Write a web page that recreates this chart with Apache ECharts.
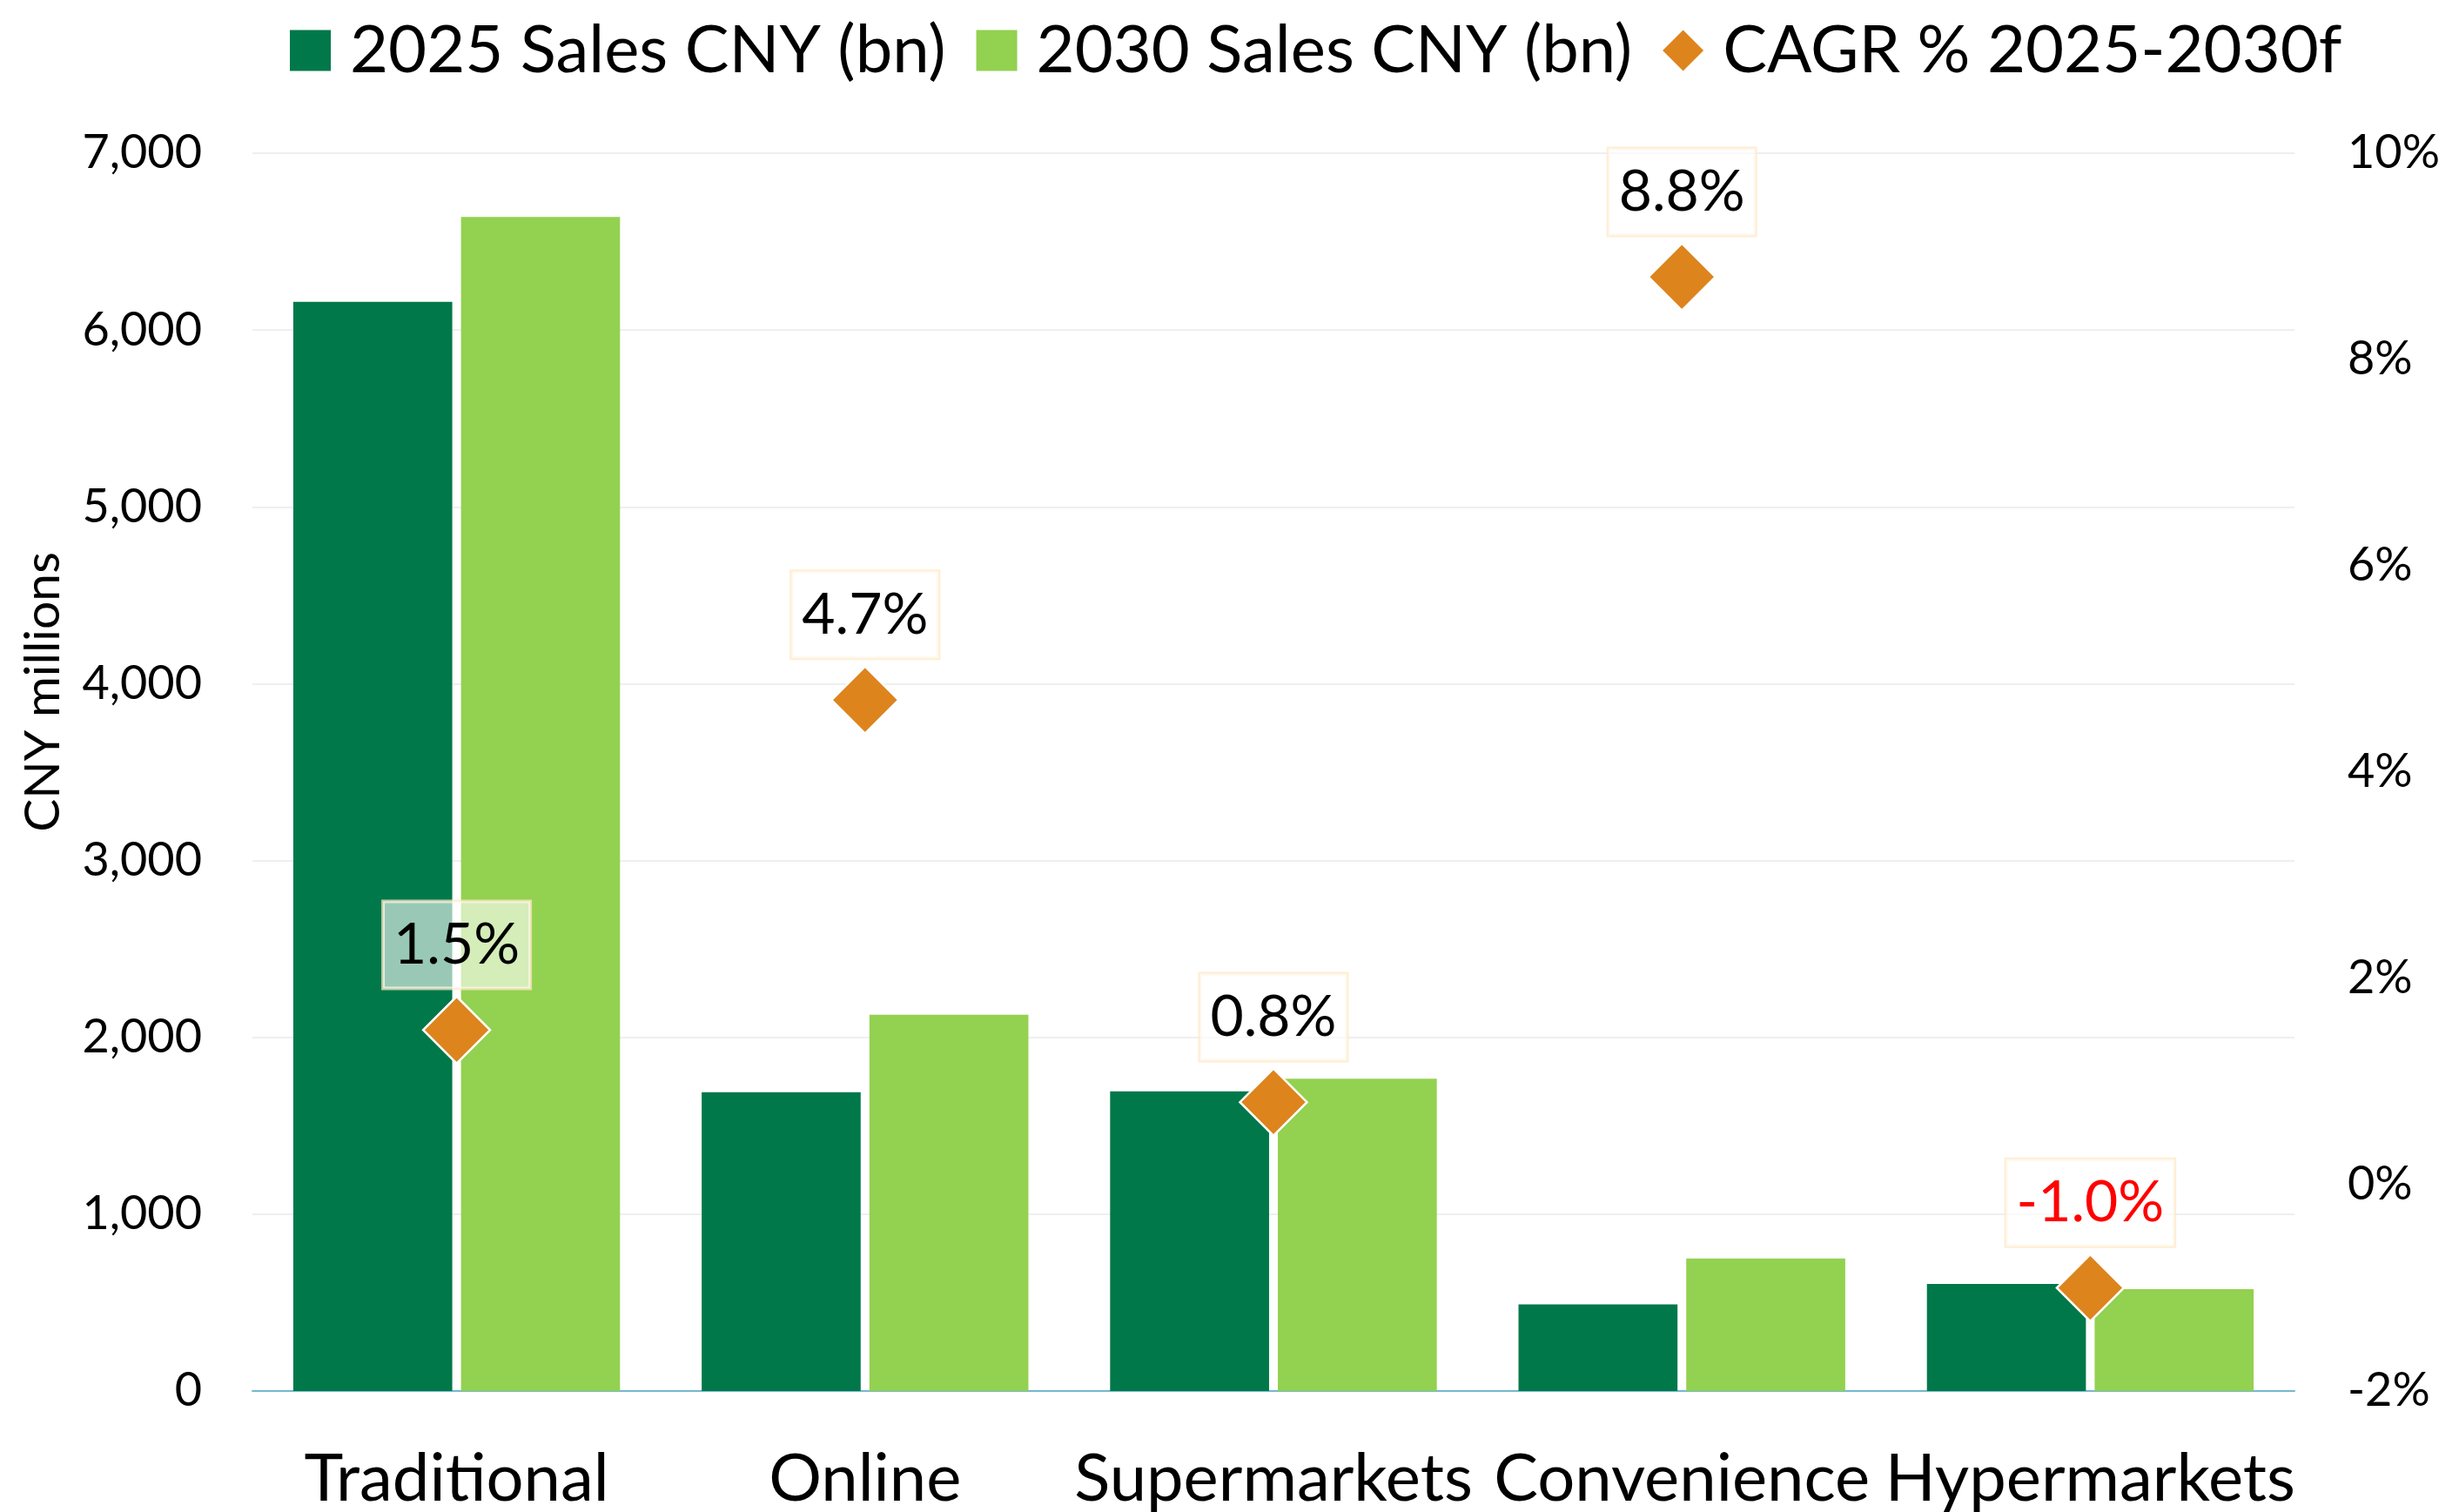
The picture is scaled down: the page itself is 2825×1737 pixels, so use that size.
<!DOCTYPE html>
<html>
<head>
<meta charset="utf-8">
<title>China grocery retail sales by channel</title>
<script src="https://cdn.jsdelivr.net/npm/echarts@6/dist/echarts.min.js"></script>
<style>
  html, body { margin: 0; padding: 0; background: #ffffff; }
  #chart { width: 2825px; height: 1737px; }
</style>
</head>
<body>
<div id="chart"></div>
<script>
// Channels and their sales (CNY, left axis) plus forecast growth (right axis)
const channels = ['Traditional', 'Online', 'Supermarkets', 'Convenience', 'Hypermarkets'];
const sales2025 = [6160, 1690, 1695, 490, 605];
const sales2030 = [6640, 2128, 1766, 750, 576];
const cagrPct = [1.5, 4.7, 0.8, 8.8, -1.0];

const leftTicks = { min: 0, max: 7000, interval: 1000 };
const rightTicks = { min: -2, max: 10, interval: 2 };

const FONT = 'Lato';
const DARK_GREEN = '#00784A';
const LIGHT_GREEN = '#93D150';
const ORANGE = '#DD841D';
const DIAMOND_ICON = 'path://M50,0L100,50L50,100L0,50Z';

const chart = echarts.init(document.getElementById('chart'), null, { renderer: 'canvas' });

chart.setOption({
  backgroundColor: '#ffffff',
  textStyle: { fontFamily: FONT, color: '#000000' },
  animation: false,
  legend: {
    left: 328,
    top: 15,
    itemWidth: 47,
    itemHeight: 47,
    itemGap: 35,
    textStyle: { fontFamily: FONT, fontSize: 76, color: '#000000', padding: [0, 0, 0, 17] },
    data: [
      { name: '2025 Sales CNY (bn)', icon: 'rect' },
      { name: '2030 Sales CNY (bn)', icon: 'rect' },
      { name: 'CAGR % 2025-2030f', icon: DIAMOND_ICON, itemStyle: { borderWidth: 0 } }
    ]
  },
  grid: { left: 290, right: 189, top: 176, bottom: 138, containLabel: false },
  xAxis: {
    type: 'category',
    data: channels,
    axisTick: { show: false },
    axisLine: { lineStyle: { color: '#74B9CC', width: 2 } },
    axisLabel: { fontFamily: FONT, fontSize: 76, color: '#000000', margin: 63, interval: 0 }
  },
  yAxis: [
    {
      type: 'value',
      min: leftTicks.min, max: leftTicks.max, interval: leftTicks.interval,
      axisLine: { show: false },
      axisTick: { show: false },
      splitLine: { lineStyle: { color: '#EFEFEF', width: 2 } },
      axisLabel: {
        fontFamily: FONT, fontSize: 54, color: '#000000', margin: 58,
        formatter: v => v.toLocaleString('en-US')
      }
    },
    {
      type: 'value',
      min: rightTicks.min, max: rightTicks.max, interval: rightTicks.interval,
      axisLine: { show: false },
      axisTick: { show: false },
      splitLine: { show: false },
      axisLabel: {
        fontFamily: FONT, fontSize: 54, color: '#000000', margin: 61,
        formatter: '{value}%'
      }
    }
  ],
  graphic: [
    {
      type: 'text',
      x: 50, y: 795,
      rotation: Math.PI / 2,
      style: {
        text: 'CNY millions',
        fontFamily: FONT, fontSize: 57, fill: '#000000',
        textAlign: 'center', textVerticalAlign: 'middle'
      }
    }
  ],
  series: [
    {
      name: '2025 Sales CNY (bn)',
      type: 'bar',
      data: sales2025,
      barGap: '5.5%',
      barCategoryGap: '20%',
      itemStyle: { color: DARK_GREEN },
      z: 2
    },
    {
      name: '2030 Sales CNY (bn)',
      type: 'bar',
      data: sales2030,
      barGap: '5.5%',
      barCategoryGap: '20%',
      itemStyle: { color: LIGHT_GREEN },
      z: 2
    },
    {
      name: 'CAGR % 2025-2030f',
      type: 'scatter',
      yAxisIndex: 1,
      symbol: 'diamond',
      symbolSize: [77, 77],
      data: cagrPct.map(v => v < 0
        ? { value: v, label: { color: '#FF0000' } }   // negative growth in red
        : v),
      itemStyle: { color: ORANGE, opacity: 1, borderColor: '#ffffff', borderWidth: 2.5 },
      z: 5,
      label: {
        show: true,
        position: 'top',
        distance: 8,
        fontFamily: FONT,
        fontSize: 66,
        lineHeight: 72,
        padding: [14, 12, 14, 12],
        backgroundColor: 'rgba(255,255,255,0.6)',
        borderColor: 'rgba(253,232,196,0.75)',
        borderWidth: 2,
        formatter: p => p.value.toFixed(1) + '%',
        color: '#000000',
        opacity: 1
      },
      labelLayout: { hideOverlap: false }
    }
  ]
});
</script>
</body>
</html>
